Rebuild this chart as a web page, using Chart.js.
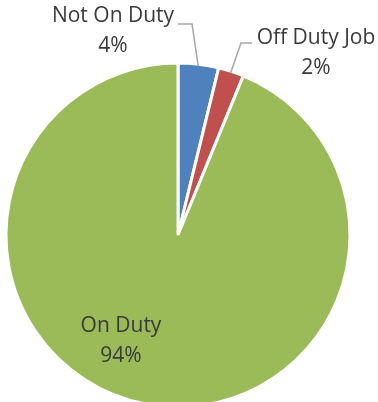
<!DOCTYPE html>
<html>
<head>
<meta charset="utf-8">
<script src="https://cdn.jsdelivr.net/npm/chart.js@4/dist/chart.umd.min.js"></script>
<style>
    html, body { margin: 0; padding: 0; background: #fff; overflow: hidden; }
    body { width: 378px; height: 402px; }
    #wrap { position: relative; width: 378px; height: 420px; }
</style>
</head>
<body>
<div id="wrap"><canvas id="pie"></canvas></div>
<script>
const categories = ['Not On Duty', 'Off Duty Job', 'On Duty'];
const values = [3.8, 2.4, 93.8];
const colors = ['#4F81BD', '#C0504D', '#9BBB59'];

// where each label sits, and whether it gets a leader line
const labelSpots = [
    { x: 113, y: 16, lineFrom: [178, 24], knee: [192, 24] },
    { x: 316, y: 38, lineFrom: [252, 43], knee: [241, 43] },
    { x: 121, y: 326, lineFrom: null, knee: null }
];

const pieLabels = {
    id: 'pieLabels',
    afterDatasetsDraw(chart) {
        const ctx = chart.ctx;
        const arcs = chart.getDatasetMeta(0).data;
        const total = values.reduce((a, b) => a + b, 0);
        ctx.save();
        arcs.forEach((arc, i) => {
            const spot = labelSpots[i];
            if (spot.lineFrom) {
                // leader line ends on the slice edge at its middle angle
                const mid = (arc.startAngle + arc.endAngle) / 2;
                const r = arc.outerRadius - 2;
                const ex = arc.x + Math.cos(mid) * r;
                const ey = arc.y + Math.sin(mid) * r;
                ctx.strokeStyle = '#A6A6A6';
                ctx.lineWidth = 1.5;
                ctx.beginPath();
                ctx.moveTo(spot.lineFrom[0], spot.lineFrom[1]);
                ctx.lineTo(spot.knee[0], spot.knee[1]);
                ctx.lineTo(ex, ey);
                ctx.stroke();
            }
            ctx.fillStyle = '#3A3A3A';
            ctx.font = '21px "Open Sans"';
            ctx.textAlign = 'center';
            ctx.textBaseline = 'middle';
            ctx.fillText(categories[i], spot.x, spot.y);
            ctx.fillText(Math.round(values[i] / total * 100) + '%', spot.x, spot.y + 30);
        });
        ctx.restore();
    }
};

new Chart(document.getElementById('pie'), {
    type: 'pie',
    data: {
        labels: categories,
        datasets: [{
            data: values,
            backgroundColor: colors,
            borderColor: '#FFFFFF',
            borderWidth: 3
        }]
    },
    options: {
        responsive: true,
        maintainAspectRatio: false,
        animation: false,
        radius: 172,
        layout: { padding: { left: 8, right: 30, top: 65, bottom: 15 } },
        plugins: {
            legend: { display: false },
            tooltip: { enabled: false }
        }
    },
    plugins: [pieLabels]
});
</script>
</body>
</html>
